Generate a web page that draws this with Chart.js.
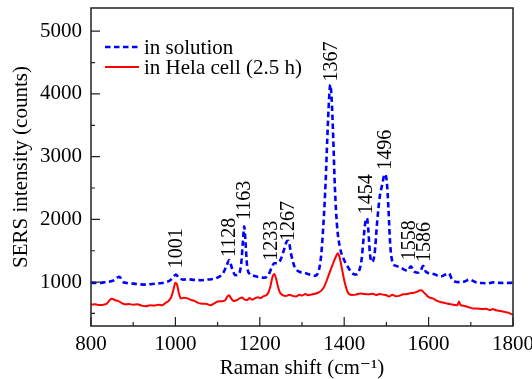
<!DOCTYPE html>
<html>
<head>
<meta charset="utf-8">
<script src="https://cdn.jsdelivr.net/npm/chart.js@4.4.1/dist/chart.umd.min.js"></script>
<style>
  html, body { margin: 0; padding: 0; background: #fff; }
  #probe { position: absolute; left: -999px; top: 0; font-family: "Liberation Serif", "DejaVu Serif", serif; }
</style>
</head>
<body>
<div id="probe">800 1000 in solution</div>
<canvas id="myChart" width="532" height="379"></canvas>
<script>
// spectrum in solution (blue dashed)
var solutionShift = [800, 815, 830, 845, 855, 862, 868, 874, 885, 900, 915, 930, 945, 960, 975, 988, 996, 1001, 1008, 1018,
  1030, 1045, 1060, 1075, 1090, 1102, 1112, 1120, 1128, 1134, 1142, 1150, 1156, 1160, 1163, 1166, 1170, 1176, 1185, 1198,
  1210, 1220, 1228, 1234, 1242, 1250, 1258, 1264, 1268, 1274, 1282, 1292, 1305, 1318, 1330, 1338, 1345, 1351, 1356, 1360,
  1364, 1367, 1370, 1374, 1378, 1383, 1390, 1398, 1408, 1418, 1426, 1434, 1441, 1446, 1450, 1454, 1457, 1461, 1466, 1472,
  1478, 1484, 1490, 1496, 1501, 1505, 1509, 1514, 1522, 1532, 1542, 1550, 1558, 1565, 1574, 1581, 1587, 1594, 1604, 1615,
  1628, 1640, 1648, 1655, 1662, 1672, 1685, 1697, 1705, 1715, 1728, 1740, 1752, 1765, 1780, 1800];
var solutionCounts = [990, 985, 995, 1010, 1030, 1070, 1085, 1010, 985, 975, 965, 960, 970, 980, 995, 1030, 1090, 1120, 1070, 1040,
  1045, 1035, 1030, 1040, 1050, 1080, 1130, 1240, 1350, 1220, 1110, 1120, 1300, 1650, 1890, 1650, 1250, 1130, 1100, 1080,
  1070, 1110, 1230, 1300, 1300, 1370, 1530, 1650, 1660, 1450, 1250, 1170, 1150, 1120, 1100, 1150, 1400, 1950, 2600, 3300,
  3900, 4150, 3950, 3300, 2500, 1900, 1550, 1380, 1250, 1150, 1120, 1160, 1350, 1700, 1950, 2020, 1850, 1450, 1320, 1450,
  1950, 2350, 2550, 2720, 2600, 2150, 1600, 1330, 1260, 1240, 1200, 1180, 1250, 1170, 1150, 1180, 1260, 1160, 1140, 1120,
  1090, 1120, 1140, 1050, 1010, 1000, 1010, 1040, 1020, 990, 985, 980, 995, 990, 985, 990];

// spectrum in Hela cell (red solid)
var helaShift = [800, 810, 820, 830, 838, 845, 850, 856, 864, 872, 880, 890, 900, 910, 920, 930, 940, 950, 960, 968,
  976, 984, 990, 995, 1000, 1004, 1008, 1013, 1020, 1027, 1035, 1045, 1055, 1065, 1075, 1083, 1092, 1100, 1110, 1118,
  1123, 1127, 1132, 1138, 1145, 1152, 1158, 1163, 1170, 1176, 1181, 1188, 1195, 1202, 1209, 1215, 1220, 1225, 1230, 1234,
  1238, 1243, 1248, 1255, 1262, 1270, 1278, 1286, 1294, 1300, 1308, 1314, 1322, 1330, 1338, 1345, 1352, 1360, 1368, 1375,
  1380, 1385, 1390, 1395, 1400, 1405, 1410, 1418, 1428, 1438, 1448, 1458, 1468, 1476, 1484, 1492, 1500, 1507, 1514, 1522,
  1530, 1540, 1550, 1558, 1566, 1572, 1578, 1583, 1588, 1594, 1600, 1610, 1620, 1630, 1640, 1650, 1660, 1668, 1672, 1675,
  1685, 1695, 1705, 1715, 1725, 1735, 1745, 1752, 1760, 1770, 1780, 1790, 1800];
var helaCounts = [640, 645, 635, 640, 660, 720, 735, 715, 700, 670, 645, 650, 640, 645, 625, 615, 630, 625, 640, 630,
  665, 700, 760, 870, 990, 960, 830, 740, 750, 745, 720, 700, 665, 655, 650, 630, 660, 690, 695, 710,
  770, 790, 740, 700, 710, 740, 755, 725, 715, 745, 720, 740, 760, 745, 775, 790, 830, 930, 1080, 1130,
  1070, 930, 830, 790, 780, 800, 780, 770, 800, 785, 810, 790, 800, 815, 830, 860, 920, 1050, 1200, 1320,
  1400, 1460, 1370, 1200, 1030, 900, 820, 795, 800, 820, 810, 805, 815, 795, 810, 800, 790, 770, 800, 775,
  780, 805, 810, 825, 830, 845, 865, 870, 840, 800, 760, 740, 700, 680, 665, 650, 640, 630, 690, 640,
  620, 600, 580, 580, 570, 575, 555, 570, 550, 540, 525, 510, 475];

// peak annotations
var peakLabels = ['1001', '1128', '1163', '1233', '1267', '1367', '1454', '1496', '1558', '1586'];
var peakLabelShift = [1002, 1126, 1163, 1225, 1266, 1367, 1450, 1496, 1553, 1588];
var peakLabelCounts = [1220, 1400, 1990, 1340, 1655, 4200, 2080, 2790, 1350, 1320];

var xTicks = [800, 1000, 1200, 1400, 1600, 1800];
var yTicks = [1000, 2000, 3000, 4000, 5000];

var serif = '"Liberation Serif", "DejaVu Serif", serif';

function toPoints(xs, ys) {
  return xs.map(function (x, i) { return { x: x, y: ys[i] }; });
}

var extras = {
  id: 'extras',
  afterDatasetsDraw: function (chart) {
    var ctx = chart.ctx;
    var a = chart.chartArea;
    var xs = chart.scales.x, ys = chart.scales.y;
    ctx.save();

    // frame
    ctx.strokeStyle = '#222';
    ctx.lineWidth = 1.5;
    ctx.strokeRect(a.left, a.top, a.right - a.left, a.bottom - a.top);

    // inward ticks (major + minor)
    ctx.lineWidth = 1.2;
    ctx.beginPath();
    for (var v = 800; v <= 1800; v += 100) {
      var px = xs.getPixelForValue(v);
      var len = v % 200 === 0 ? 9 : 4;
      ctx.moveTo(px, a.bottom);
      ctx.lineTo(px, a.bottom - len);
    }
    for (var w = 500; w <= 5000; w += 500) {
      var py = ys.getPixelForValue(w);
      var l2 = w % 1000 === 0 ? 9 : 4;
      ctx.moveTo(a.left, py);
      ctx.lineTo(a.left + l2, py);
    }
    ctx.stroke();

    // peak labels (rotated)
    ctx.fillStyle = '#000';
    ctx.font = '20px ' + serif;
    ctx.textAlign = 'left';
    ctx.textBaseline = 'middle';
    peakLabels.forEach(function (t, i) {
      ctx.save();
      ctx.translate(xs.getPixelForValue(peakLabelShift[i]), ys.getPixelForValue(peakLabelCounts[i]));
      ctx.rotate(-Math.PI / 2);
      ctx.fillText(t, 0, 1);
      ctx.restore();
    });

    // legend
    ctx.font = '21px ' + serif;
    chart.data.datasets.forEach(function (ds, i) {
      var y = a.top + 39 + i * 20;
      ctx.strokeStyle = ds.borderColor;
      ctx.lineWidth = ds.borderWidth;
      ctx.setLineDash(ds.borderDash || []);
      ctx.beginPath();
      ctx.moveTo(a.left + 14, y);
      ctx.lineTo(a.left + 48, y);
      ctx.stroke();
      ctx.setLineDash([]);
      ctx.fillText(ds.label, a.left + 53, y + 1);
    });
    ctx.restore();
  }
};

function plain(v) { return String(v); }

function draw() {
  var ctx = document.getElementById('myChart').getContext('2d');
  var myChart = new Chart(ctx, {
    type: 'line',
    data: {
      datasets: [{
        label: 'in solution',
        data: toPoints(solutionShift, solutionCounts),
        borderColor: '#0000ff',
        borderWidth: 2.6,
        borderDash: [5.5, 3.5],
        pointRadius: 0,
        cubicInterpolationMode: 'monotone',
        fill: false
      }, {
        label: 'in Hela cell (2.5 h)',
        data: toPoints(helaShift, helaCounts),
        borderColor: '#ff0000',
        borderWidth: 2,
        pointRadius: 0,
        cubicInterpolationMode: 'monotone',
        fill: false
      }]
    },
    options: {
      responsive: false,
      devicePixelRatio: 1,
      animation: false,
      layout: { padding: { top: 8, right: 19, left: 0, bottom: 0 } },
      plugins: { legend: { display: false }, tooltip: { enabled: false } },
      scales: {
        x: {
          type: 'linear',
          min: 800,
          max: 1800,
          afterBuildTicks: function (s) { s.ticks = xTicks.map(function (v) { return { value: v }; }); },
          afterFit: function (s) { s.height = 53; s.paddingLeft = 0; s.paddingRight = 0; },
          grid: { display: false, drawTicks: false },
          border: { display: false },
          ticks: { color: '#000', font: { family: serif, size: 21 }, padding: 6, maxRotation: 0, callback: plain },
          title: { display: true, text: 'Raman shift (cm\u207B\u00B9)', color: '#000', font: { family: serif, size: 21, lineHeight: 1.0 }, padding: { top: 0, bottom: 0 } }
        },
        y: {
          min: 300,
          max: 5370,
          afterBuildTicks: function (s) { s.ticks = yTicks.map(function (v) { return { value: v }; }); },
          afterFit: function (s) { s.width = 91; s.paddingTop = 0; s.paddingBottom = 0; },
          grid: { display: false, drawTicks: false },
          border: { display: false },
          ticks: { color: '#000', font: { family: serif, size: 21 }, padding: 9, callback: plain },
          title: { display: true, text: 'SERS intensity (counts)', color: '#000', font: { family: serif, size: 21 }, padding: { top: 9, bottom: 0 } }
        }
      }
    },
    plugins: [extras]
  });
}

if (document.fonts && document.fonts.load) {
  Promise.all([
    document.fonts.load('20px "Liberation Serif"'),
    document.fonts.load('20px "DejaVu Serif"')
  ]).then(draw, draw);
} else {
  draw();
}
</script>
</body>
</html>
